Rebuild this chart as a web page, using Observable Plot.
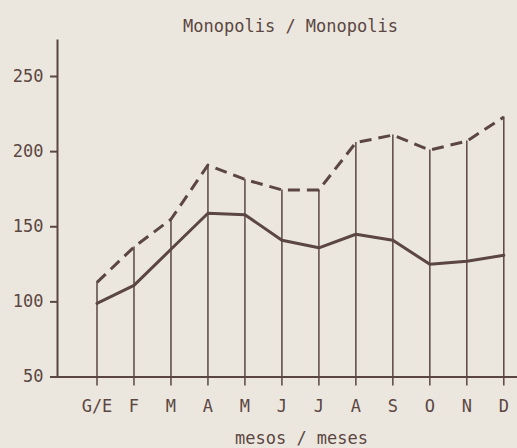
<!DOCTYPE html>
<html>
<head>
<meta charset="utf-8">
<script src="https://cdn.jsdelivr.net/npm/d3@7"></script>
<script src="https://cdn.jsdelivr.net/npm/@observablehq/plot@0.6"></script>
<style>
  html, body { margin: 0; padding: 0; background: #ebe7df; }
  #chart svg { display: block; }
</style>
</head>
<body>
<div id="chart"></div>
<script>
const title = "Monopolis / Monopolis";
const xLabel = "mesos / meses";
const months = ["G/E", "F", "M", "A", "M", "J", "J", "A", "S", "O", "N", "D"];
const solidSeries = [99, 111, 135, 159, 158, 141, 136, 145, 141, 125, 127, 131];
const dashedSeries = [113, 136.5, 155, 191, 181.5, 174.5, 174.5, 206, 211, 201, 207, 223];
const yTicks = [50, 100, 150, 200, 250];

const idx = months.map((_, i) => i);
const ink = "#5b4641";

const chart = Plot.plot({
  width: 517,
  height: 448,
  marginTop: 40,
  marginLeft: 57,
  marginRight: 0,
  marginBottom: 71.5,
  style: { background: "transparent", color: ink, fontFamily: "'DejaVu Sans Mono', monospace", fontSize: "17px" },
  x: { type: "linear", domain: [0, 11], range: [96.5, 503.3] },
  y: { domain: [50, 250], range: [376.5, 76] },
  marks: [
    Plot.ruleX(idx, { x: i => i, y1: 50, y2: i => dashedSeries[i], stroke: ink, strokeWidth: 1.5 }),
    Plot.line(idx, { x: i => i, y: i => dashedSeries[i], stroke: ink, strokeWidth: 3, strokeDasharray: "12,7", strokeLinecap: "butt" }),
    Plot.line(idx, { x: i => i, y: i => solidSeries[i], stroke: ink, strokeWidth: 3 }),
    Plot.frame({ anchor: "left", stroke: ink, strokeWidth: 2 }),
    Plot.frame({ anchor: "bottom", stroke: ink, strokeWidth: 2 }),
    Plot.axisY(yTicks, { tickSize: 7, tickPadding: 7, strokeWidth: 2, label: null }),
    Plot.axisX(idx, { tickSize: 9, tickPadding: 14, strokeWidth: 1.5, tickFormat: i => months[i], label: null }),
    Plot.text([title], { frameAnchor: "top", lineAnchor: "bottom", dy: -9, dx: 3, fill: ink, fontSize: 17 }),
    Plot.text([xLabel], { frameAnchor: "bottom", lineAnchor: "bottom", dy: 66.5, dx: 14, fill: ink, fontSize: 17 })
  ]
});
document.getElementById("chart").appendChild(chart);
</script>
</body>
</html>
